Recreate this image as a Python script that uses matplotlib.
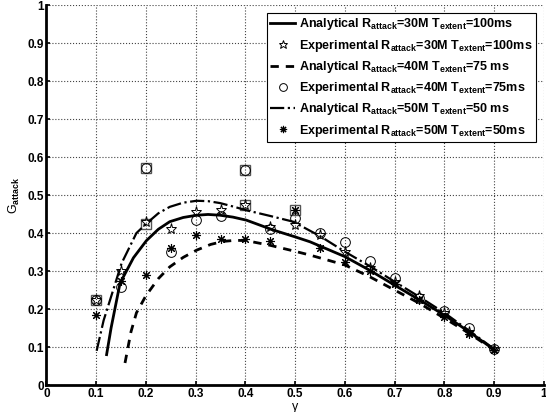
import matplotlib
matplotlib.use('Agg')
import matplotlib.pyplot as plt

# analytical curves
gam_a30 = [0.121, 0.13, 0.148, 0.175, 0.201, 0.225, 0.248, 0.275, 0.302, 0.325, 0.349, 0.375, 0.402,
           0.456, 0.5, 0.53, 0.6, 0.65, 0.7, 0.75, 0.8, 0.85, 0.9]
g_a30 = [0.08, 0.15, 0.268, 0.335, 0.38, 0.41, 0.43, 0.441, 0.447, 0.449, 0.447, 0.442, 0.434,
         0.408, 0.39, 0.377, 0.338, 0.302, 0.263, 0.224, 0.184, 0.14, 0.093]
gam_a40 = [0.158, 0.17, 0.181, 0.2, 0.225, 0.248, 0.275, 0.302, 0.33, 0.355, 0.38, 0.402, 0.449,
           0.5, 0.53, 0.6, 0.65, 0.7, 0.75, 0.8, 0.85, 0.9]
g_a40 = [0.058, 0.14, 0.19, 0.235, 0.28, 0.311, 0.336, 0.355, 0.37, 0.378, 0.381, 0.38, 0.368,
         0.352, 0.342, 0.316, 0.285, 0.25, 0.215, 0.176, 0.136, 0.092]
gam_a50 = [0.101, 0.115, 0.128, 0.151, 0.181, 0.201, 0.225, 0.248, 0.275, 0.302, 0.325, 0.349,
           0.375, 0.402, 0.45, 0.496, 0.55, 0.6, 0.65, 0.7, 0.75, 0.8, 0.85, 0.9]
g_a50 = [0.09, 0.17, 0.224, 0.32, 0.4, 0.425, 0.452, 0.469, 0.48, 0.485, 0.484, 0.479,
         0.47, 0.46, 0.445, 0.43, 0.392, 0.351, 0.313, 0.272, 0.232, 0.19, 0.143, 0.095]

# experimental points
gam_e = [0.1, 0.15, 0.2, 0.25, 0.3, 0.35, 0.4, 0.45, 0.5, 0.55, 0.6, 0.65, 0.7, 0.75, 0.8, 0.85, 0.9]
g_e30 = [0.224, 0.30, 0.43, 0.41, 0.455, 0.46, 0.475, 0.415, 0.42, 0.395, 0.35, 0.307, 0.27, 0.235, 0.19, 0.14, 0.095]
g_e40 = [0.224, 0.257, 0.57, 0.35, 0.435, 0.445, 0.565, 0.41, 0.44, 0.40, 0.376, 0.326, 0.282, 0.23, 0.195, 0.15, 0.095]
g_e50 = [0.184, 0.275, 0.29, 0.36, 0.395, 0.385, 0.385, 0.38, 0.46, 0.36, 0.325, 0.30, 0.265, 0.225, 0.18, 0.135, 0.093]
gam_sq = [0.1, 0.2, 0.2, 0.4, 0.4, 0.5]
g_sq = [0.224, 0.57, 0.425, 0.565, 0.475, 0.46]

plt.rcParams['font.family'] = ['Liberation Sans', 'DejaVu Sans']
plt.rcParams['font.weight'] = 'bold'
plt.rcParams['mathtext.fontset'] = 'custom'
plt.rcParams['mathtext.rm'] = 'Liberation Sans:bold'
plt.rcParams['mathtext.bf'] = 'Liberation Sans:bold'
plt.rcParams['mathtext.it'] = 'Liberation Sans:bold'
plt.rcParams['mathtext.default'] = 'bf'

fig = plt.figure(figsize=(5.46, 4.12), dpi=100)
ax = fig.add_axes([0.085, 0.0655, 0.911, 0.922])

ax.plot(gam_sq, g_sq, ls='none', marker='s', ms=7, mfc='none', mec='#555555', mew=1.0)
ax.plot(gam_a30, g_a30, 'k-', lw=2,
        label='Analytical R$_{attack}$=30M T$_{extent}$=100ms')
ax.plot(gam_e, g_e30, ls='none', marker='*', ms=8, mfc='none', mec='k', mew=0.7,
        label='Experimental R$_{attack}$=30M T$_{extent}$=100ms')
ax.plot(gam_a40, g_a40, 'k--', lw=2, dashes=(3, 2.5),
        label='Analytical R$_{attack}$=40M T$_{extent}$=75 ms')
ax.plot(gam_e, g_e40, ls='none', marker='o', ms=7, mfc='none', mec='k', mew=0.7,
        label='Experimental R$_{attack}$=40M T$_{extent}$=75ms')
ax.plot(gam_a50, g_a50, 'k-.', lw=1.6,
        label='Analytical R$_{attack}$=50M T$_{extent}$=50 ms')
ax.plot(gam_e, g_e50, ls='none', marker=(8, 2, 0), ms=6.5, mec='k', mew=0.8,
        label='Experimental R$_{attack}$=50M T$_{extent}$=50ms')

ax.set_xlim(0, 1)
ax.set_ylim(0, 1)
ax.set_xticks([i / 10 for i in range(11)])
ax.set_yticks([i / 10 for i in range(11)])
ax.set_xticklabels(['0', '0.1', '0.2', '0.3', '0.4', '0.5', '0.6', '0.7', '0.8', '0.9', '1'])
ax.set_yticklabels(['0', '0.1', '0.2', '0.3', '0.4', '0.5', '0.6', '0.7', '0.8', '0.9', '1'])
ax.tick_params(labelsize=8.5, direction='in', length=3, width=1.2, pad=2)
ax.grid(True, ls=':', color='#444444', lw=0.8)
ax.spines['top'].set_visible(False)
ax.spines['right'].set_visible(False)
ax.spines['left'].set_linewidth(2)
ax.spines['bottom'].set_linewidth(2)
ax.set_xlabel('γ', fontsize=9, labelpad=1, fontweight='normal')
ax.set_ylabel('G$_{attack}$', fontsize=9, labelpad=4)

leg = ax.legend(loc='upper right', fontsize=9, frameon=True, fancybox=False,
                edgecolor='k', framealpha=1, handlelength=2.0, handletextpad=0.3,
                borderpad=0.3, labelspacing=0.42, borderaxespad=0.6, markerscale=0.8)
leg.get_frame().set_linewidth(0.8)

fig.savefig('out.png', dpi=100)
